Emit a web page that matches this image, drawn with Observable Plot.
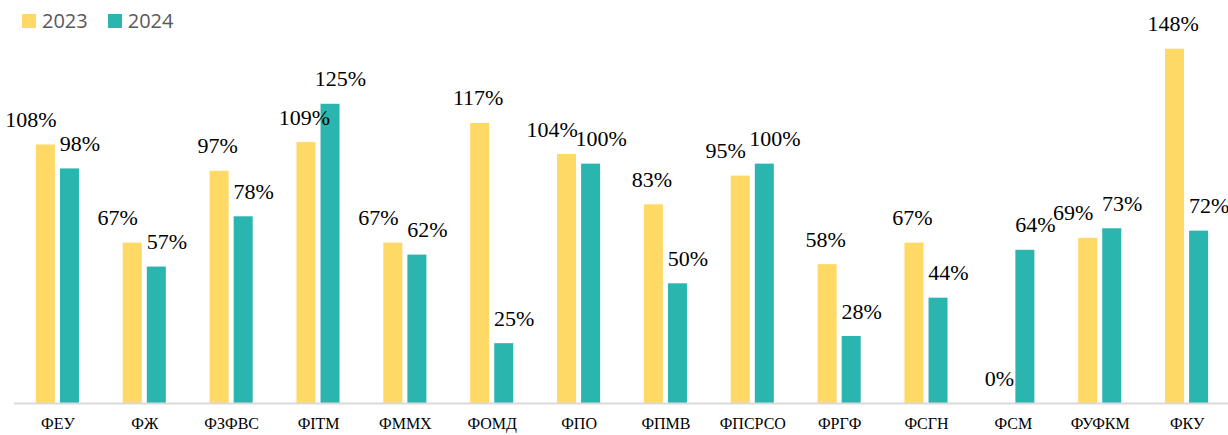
<!DOCTYPE html>
<html>
<head>
<meta charset="utf-8">
<script src="https://cdn.jsdelivr.net/npm/d3@7"></script>
<script src="https://cdn.jsdelivr.net/npm/@observablehq/plot@0.6"></script>
<style>
  html, body { margin: 0; padding: 0; background: #fff; }
  #wrap { position: relative; width: 1228px; height: 435px; overflow: hidden; }
  #legend { position: absolute; left: 22px; top: 7px; display: flex; align-items: center;
            font-family: "Open Sans", sans-serif; font-size: 20px; color: #595959; }
  #legend .item { display: flex; align-items: center; margin-right: 20px; }
  #legend .sw { width: 14px; height: 14px; margin-right: 6px; }
</style>
</head>
<body>
<div id="wrap">
  <div id="chart"></div>
  <div id="legend"></div>
</div>
<script>
const categories = ["ФЕУ","ФЖ","ФЗФВС","ФІТМ","ФММХ","ФОМД","ФПО","ФПМВ","ФПСРСО","ФРГФ","ФСГН","ФСМ","ФУФКМ","ФКУ"];
const series = ["2023","2024"];
const values2023 = [108,67,97,109,67,117,104,83,95,58,67,0,69,148];
const values2024 = [98,57,78,125,62,25,100,50,100,28,44,64,73,72];
const colors = ["#FFD966","#2BB5AF"];

const data = [];
categories.forEach((c, i) => {
  // labels of a pair whose values are close would collide, so the 2023 one is pushed further left
  const close = Math.abs(values2023[i] - values2024[i]) < 11;
  data.push({cat: c, year: series[0], value: values2023[i], close});
  data.push({cat: c, year: series[1], value: values2024[i], close});
});

const serif = "Liberation Serif";

const chart = Plot.plot({
  width: 1228,
  height: 435,
  marginTop: 20,
  marginBottom: 32,
  marginLeft: 14,
  marginRight: -2,
  fx: {domain: categories, paddingInner: 0, paddingOuter: 0, round: false, label: null},
  x: {domain: series, paddingInner: 0.21, paddingOuter: 0.91, round: false, axis: null},
  y: {domain: [0, 160], axis: null},
  color: {domain: series, range: colors},
  style: {background: "#fff", overflow: "visible", fontFamily: serif},
  marks: [
    Plot.barY(data, {fx: "cat", x: "year", y: "value", fill: "year"}),
    Plot.ruleY([0], {stroke: "#d9d9d9", strokeWidth: 2}),
    Plot.text(data.filter(d => d.year === series[0] && !d.close), {
      fx: "cat", x: "year", y: "value", text: d => d.value + "%",
      dy: -25, dx: -2, fontSize: 22, fontFamily: serif, fill: "#000", lineAnchor: "middle"
    }),
    Plot.text(data.filter(d => d.year === series[0] && d.close), {
      fx: "cat", x: "year", y: "value", text: d => d.value + "%",
      dy: -25, dx: -15, fontSize: 22, fontFamily: serif, fill: "#000", lineAnchor: "middle"
    }),
    Plot.text(data.filter(d => d.year === series[1]), {
      fx: "cat", x: "year", y: "value", text: d => d.value + "%",
      dy: -25, dx: 10, fontSize: 22, fontFamily: serif, fill: "#000", lineAnchor: "middle"
    }),
    Plot.axisFx({anchor: "bottom", tickSize: 0, tickPadding: 14, fontSize: 16, fontFamily: serif, fill: "#000", label: null})
  ]
});
document.getElementById("chart").appendChild(chart);

const legend = document.getElementById("legend");
series.forEach((s, i) => {
  const item = document.createElement("div");
  item.className = "item";
  const sw = document.createElement("div");
  sw.className = "sw";
  sw.style.background = colors[i];
  const t = document.createElement("span");
  t.textContent = s;
  item.appendChild(sw);
  item.appendChild(t);
  legend.appendChild(item);
});
</script>
</body>
</html>
